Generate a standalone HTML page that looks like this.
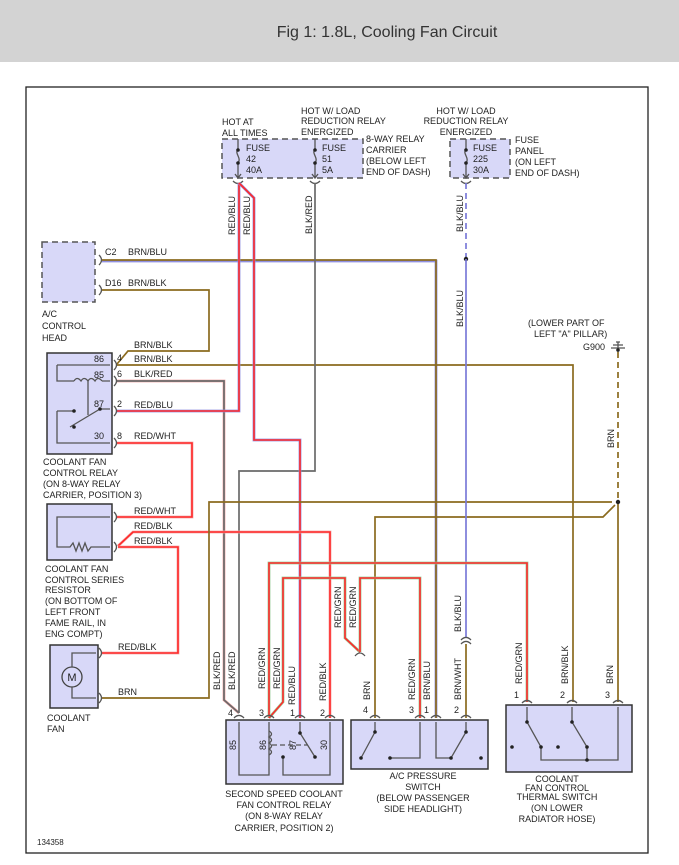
<!DOCTYPE html>
<html><head><meta charset="utf-8"><style>
html,body{margin:0;padding:0;background:#fff;}
svg{display:block;}
text{font-family:"Liberation Sans",sans-serif;font-size:9px;fill:#222;}
.t{font-size:16px;fill:#333;}
.box{fill:#d8d8f8;stroke:#333;stroke-width:1.5;}
.dbox{fill:#d8d8f8;stroke:#555;stroke-width:1.5;stroke-dasharray:6,4;}
.red{fill:none;stroke:#ff2a2a;stroke-width:1.6;}
.redo{fill:none;stroke:#f4a8a8;stroke-width:2.8;}
.brn{fill:none;stroke:#8b6b1f;stroke-width:1.7;}
.gry{fill:none;stroke:#6a6a6a;stroke-width:1.7;}
.blu{fill:none;stroke:#7a7ad8;stroke-width:1.7;}
.in{fill:none;stroke:#555;stroke-width:1.3;}
</style></head><body>
<svg width="679" height="865" viewBox="0 0 679 865" xmlns="http://www.w3.org/2000/svg">
<rect x="0" y="0" width="679" height="62" fill="#d3d3d3"/>
<text class="t" x="387" y="37" text-anchor="middle">Fig 1: 1.8L, Cooling Fan Circuit</text>
<rect x="26" y="87" width="622" height="766" fill="none" stroke="#222" stroke-width="1.3"/>

<rect class="dbox" x="222" y="139" width="141" height="39"/>
<rect class="dbox" x="450" y="139" width="60" height="39"/>
<text x="222" y="125">HOT AT</text><text x="222" y="136">ALL TIMES</text>
<text x="301" y="114">HOT W/ LOAD</text><text x="301" y="124">REDUCTION RELAY</text><text x="301" y="135">ENERGIZED</text>
<text x="366" y="142">8-WAY RELAY</text><text x="366" y="153">CARRIER</text><text x="366" y="164">(BELOW LEFT</text><text x="366" y="175">END OF DASH)</text>
<text x="466" y="114" text-anchor="middle">HOT W/ LOAD</text><text x="466" y="124" text-anchor="middle">REDUCTION RELAY</text><text x="466" y="135" text-anchor="middle">ENERGIZED</text>
<text x="515" y="143">FUSE</text><text x="515" y="154">PANEL</text><text x="515" y="165">(ON LEFT</text><text x="515" y="176">END OF DASH)</text>
<g class="in">
<path d="M238 139V150M238 163V178M235 174L238 178L241 174M238 150C234 153 242 158 238 163"/>
<path d="M315 139V150M315 163V178M312 174L315 178L318 174M315 150C311 153 319 158 315 163"/>
<path d="M466 139V150M466 163V178M463 174L466 178L469 174M466 150C462 153 470 158 466 163"/>
<path d="M233 181Q238 186 243 181M310 181Q315 186 320 181M461 181Q466 186 471 181"/>
</g>
<circle cx="238" cy="150" r="1.8" fill="#222"/><circle cx="238" cy="163" r="1.8" fill="#222"/>
<circle cx="315" cy="150" r="1.8" fill="#222"/><circle cx="315" cy="163" r="1.8" fill="#222"/>
<circle cx="466" cy="150" r="1.8" fill="#222"/><circle cx="466" cy="163" r="1.8" fill="#222"/>
<text x="246" y="151">FUSE</text><text x="246" y="162">42</text><text x="246" y="173">40A</text>
<text x="322" y="151">FUSE</text><text x="322" y="162">51</text><text x="322" y="173">5A</text>
<text x="473" y="151">FUSE</text><text x="473" y="162">225</text><text x="473" y="173">30A</text>

<rect class="dbox" x="42" y="242" width="53" height="60"/>
<text x="42" y="317">A/C</text><text x="42" y="329">CONTROL</text><text x="42" y="341">HEAD</text>
<path class="in" d="M99 255Q104 260 99 265M99 285Q104 290 99 295"/>
<text x="105" y="255">C2</text><text x="128" y="255">BRN/BLU</text>
<text x="105" y="286">D16</text><text x="128" y="286">BRN/BLK</text>

<path d="M102 261H436V718" fill="none" stroke="#9090e0" stroke-width="2.8"/>
<path class="brn" d="M102 260H436V718"/>
<path class="brn" d="M102 290H209V351H128L117 364"/>
<path class="brn" d="M117 365H573V702"/>
<path class="redo" d="M117 381H224V700L239 713"/><path class="gry" d="M117 381H224V700L239 713"/>
<path class="gry" d="M315 183V471H239V713"/>
<path d="M239 183V411H117" fill="none" stroke="#9090e0" stroke-width="2.8"/><path class="red" d="M239 183V411H117"/>
<path d="M239 183L254 198V440H300V718" fill="none" stroke="#9090e0" stroke-width="2.8"/><path class="red" d="M239 183L254 198V440H300V718"/>
<path class="redo" d="M117 443H192V517H117"/><path class="red" d="M117 443H192V517H117"/>
<path class="redo" d="M118 546L133 532H330V718"/><path class="red" d="M118 546L133 532H330V718"/>
<path class="redo" d="M118 547H178V653H102"/><path class="red" d="M118 547H178V653H102"/>
<path class="brn" d="M102 698H209V502H612"/>
<path class="brn" d="M375 718V517H603L615 505"/>
<path class="brn" d="M618 352V502" stroke-dasharray="6,4"/>
<path class="brn" d="M618 502V702"/>
<circle cx="618" cy="502" r="2.2" fill="#222"/>
<path class="blu" d="M466 183V259" stroke-dasharray="6,4"/>
<circle cx="466" cy="259" r="2.2" fill="#222"/>
<path class="blu" d="M466 259V637"/>
<path class="in" d="M461 640Q466 635 471 640M461 644Q466 639 471 644"/>
<path class="brn" d="M466 644V718"/>
<path d="M269 718V563H527V702" fill="none" stroke="#9c9" stroke-width="2.8"/><path class="red" d="M269 718V563H527V702"/>
<path d="M269 718L283 702V578H345V638L360 652" fill="none" stroke="#9c9" stroke-width="2.8"/><path class="red" d="M269 718L283 702V578H345V638L360 652"/>
<path d="M360 652V578H420V718" fill="none" stroke="#9c9" stroke-width="2.8"/><path class="red" d="M360 652V578H420V718"/>
<path class="in" d="M355 656Q360 650 365 656"/>

<text x="528" y="326">(LOWER PART OF</text><text x="534" y="337">LEFT "A" PILLAR)</text>
<text x="583" y="350">G900</text>
<path class="in" d="M611 348H625M613 345H623M616 342H620M618 342V352"/>
<circle cx="618" cy="350" r="1.8" fill="#222"/>

<rect class="box" x="47" y="353" width="65" height="101"/>
<path class="in" d="M57 365H110M57 365V381H74M102 381H110M57 411V443H110M57 411H74M70 427L100 409H110M88 381V415"/>
<path class="in" d="M74 381q3 -5 7 0q3 -5 7 0q3 -5 7 0q3 -5 7 0" />
<circle cx="74" cy="411" r="1.8" fill="#222"/><circle cx="100" cy="409" r="1.8" fill="#222"/><circle cx="74" cy="427" r="1.8" fill="#222"/>
<text x="94" y="362">86</text><text x="94" y="378">85</text><text x="94" y="407">87</text><text x="94" y="439">30</text>
<path class="in" d="M114 360Q119 365 114 370M114 376Q119 381 114 386M114 406Q119 411 114 416M114 438Q119 443 114 448"/>
<text x="117" y="361">4</text><text x="117" y="377">6</text><text x="117" y="407">2</text><text x="117" y="439">8</text>
<text x="134" y="348">BRN/BLK</text><text x="134" y="362">BRN/BLK</text><text x="134" y="377">BLK/RED</text><text x="134" y="408">RED/BLU</text><text x="134" y="439">RED/WHT</text>
<text x="43" y="465">COOLANT FAN</text><text x="43" y="476">CONTROL RELAY</text><text x="43" y="487">(ON 8-WAY RELAY</text><text x="43" y="498">CARRIER, POSITION 3)</text>

<rect class="box" x="47" y="504" width="65" height="56"/>
<path class="in" d="M110 517H57V547H70l3-4 3 8 3-8 3 8 3-8 3 8 3-4H110"/>
<path class="in" d="M114 512Q119 517 114 522M114 542Q119 547 114 552"/>
<text x="134" y="514">RED/WHT</text><text x="134" y="529">RED/BLK</text><text x="134" y="544">RED/BLK</text>
<text x="45" y="572">COOLANT FAN</text><text x="45" y="583">CONTROL SERIES</text><text x="45" y="593">RESISTOR</text><text x="45" y="604">(ON BOTTOM OF</text><text x="45" y="615">LEFT FRONT</text><text x="45" y="626">FAME RAIL, IN</text><text x="45" y="637">ENG COMPT)</text>

<rect class="box" x="50" y="645" width="48" height="63"/>
<circle cx="72" cy="677" r="10" fill="none" stroke="#444" stroke-width="1.3"/>
<text x="72" y="681" text-anchor="middle" style="font-size:11px">M</text>
<path class="in" d="M72 667V653H96M72 687V698H96"/>
<path class="in" d="M99 648Q104 653 99 658M99 693Q104 698 99 703"/>
<text x="118" y="650">RED/BLK</text><text x="118" y="695">BRN</text>
<text x="47" y="721">COOLANT</text><text x="47" y="732">FAN</text>

<rect class="box" x="226" y="720" width="117" height="64"/>
<path class="in" d="M239 722V775H269V722M300 722V733L315 757M283 757V775H330V722"/>
<path class="in" d="M269 731q5 3 0 6q5 3 0 6q5 3 0 6q5 3 0 6"/>
<path class="in" d="M272 745H308" stroke-dasharray="5,3"/>
<circle cx="283" cy="757" r="1.8" fill="#222"/><circle cx="315" cy="757" r="1.8" fill="#222"/><circle cx="300" cy="733" r="1.8" fill="#222"/>
<g class="in"><path d="M234 718Q239 713 244 718M264 718Q269 713 274 718M295 718Q300 713 305 718M325 718Q330 713 335 718"/></g>
<text x="228" y="716">4</text><text x="259" y="716">3</text><text x="290" y="716">1</text><text x="320" y="716">2</text>
<text transform="translate(236,750) rotate(-90)">85</text><text transform="translate(266,750) rotate(-90)">86</text><text transform="translate(296,750) rotate(-90)">87</text><text transform="translate(327,750) rotate(-90)">30</text>
<text x="284" y="797" text-anchor="middle">SECOND SPEED COOLANT</text><text x="284" y="808" text-anchor="middle">FAN CONTROL RELAY</text><text x="284" y="819" text-anchor="middle">(ON 8-WAY RELAY</text><text x="284" y="831" text-anchor="middle">CARRIER, POSITION 2)</text>

<rect class="box" x="351" y="720" width="137" height="49"/>
<path class="in" d="M375 722V732L361 758M390 758H420V722M436 722V758H451L466 732V722"/>
<circle cx="375" cy="732" r="1.8" fill="#222"/><circle cx="361" cy="758" r="1.8" fill="#222"/><circle cx="390" cy="758" r="1.8" fill="#222"/><circle cx="451" cy="758" r="1.8" fill="#222"/><circle cx="466" cy="732" r="1.8" fill="#222"/><circle cx="481" cy="758" r="1.8" fill="#222"/>
<g class="in"><path d="M370 718Q375 713 380 718M415 718Q420 713 425 718M431 718Q436 713 441 718M461 718Q466 713 471 718"/></g>
<text x="363" y="713">4</text><text x="409" y="713">3</text><text x="424" y="713">1</text><text x="454" y="713">2</text>
<text x="423" y="779" text-anchor="middle">A/C PRESSURE</text><text x="423" y="790" text-anchor="middle">SWITCH</text><text x="423" y="801" text-anchor="middle">(BELOW PASSENGER</text><text x="423" y="812" text-anchor="middle">SIDE HEADLIGHT)</text>

<rect class="box" x="506" y="705" width="126" height="67"/>
<path class="in" d="M527 707V722L541 747V760H587V747L572 722V707M618 707V760H587"/>
<circle cx="527" cy="722" r="1.8" fill="#222"/><circle cx="541" cy="747" r="1.8" fill="#222"/><circle cx="572" cy="722" r="1.8" fill="#222"/><circle cx="587" cy="747" r="1.8" fill="#222"/><circle cx="587" cy="760" r="1.8" fill="#222"/><circle cx="512" cy="747" r="1.8" fill="#222"/><circle cx="558" cy="747" r="1.8" fill="#222"/>
<g class="in"><path d="M522 703Q527 698 532 703M567 703Q572 698 577 703M613 703Q618 698 623 703"/></g>
<text x="514" y="698">1</text><text x="560" y="698">2</text><text x="605" y="698">3</text>
<text x="557" y="782" text-anchor="middle">COOLANT</text><text x="557" y="791" text-anchor="middle">FAN CONTROL</text><text x="557" y="800" text-anchor="middle">THERMAL SWITCH</text><text x="557" y="811" text-anchor="middle">(ON LOWER</text><text x="557" y="822" text-anchor="middle">RADIATOR HOSE)</text>

<text transform="translate(235,235) rotate(-90)">RED/BLU</text>
<text transform="translate(250,235) rotate(-90)">RED/BLU</text>
<text transform="translate(312,234) rotate(-90)">BLK/RED</text>
<text transform="translate(463,232) rotate(-90)">BLK/BLU</text>
<text transform="translate(463,327) rotate(-90)">BLK/BLU</text>
<text transform="translate(614,448) rotate(-90)">BRN</text>
<text transform="translate(220,690) rotate(-90)">BLK/RED</text>
<text transform="translate(235,690) rotate(-90)">BLK/RED</text>
<text transform="translate(265,689) rotate(-90)">RED/GRN</text>
<text transform="translate(280,689) rotate(-90)">RED/GRN</text>
<text transform="translate(295,705) rotate(-90)">RED/BLU</text>
<text transform="translate(326,701) rotate(-90)">RED/BLK</text>
<text transform="translate(341,628) rotate(-90)">RED/GRN</text>
<text transform="translate(356,628) rotate(-90)">RED/GRN</text>
<text transform="translate(370,700) rotate(-90)">BRN</text>
<text transform="translate(415,700) rotate(-90)">RED/GRN</text>
<text transform="translate(430,700) rotate(-90)">BRN/BLU</text>
<text transform="translate(461,700) rotate(-90)">BRN/WHT</text>
<text transform="translate(461,632) rotate(-90)">BLK/BLU</text>
<text transform="translate(522,684) rotate(-90)">RED/GRN</text>
<text transform="translate(568,684) rotate(-90)">BRN/BLK</text>
<text transform="translate(613,684) rotate(-90)">BRN</text>

<text x="37" y="845" style="font-size:8px">134358</text>
</svg>
</body></html>
